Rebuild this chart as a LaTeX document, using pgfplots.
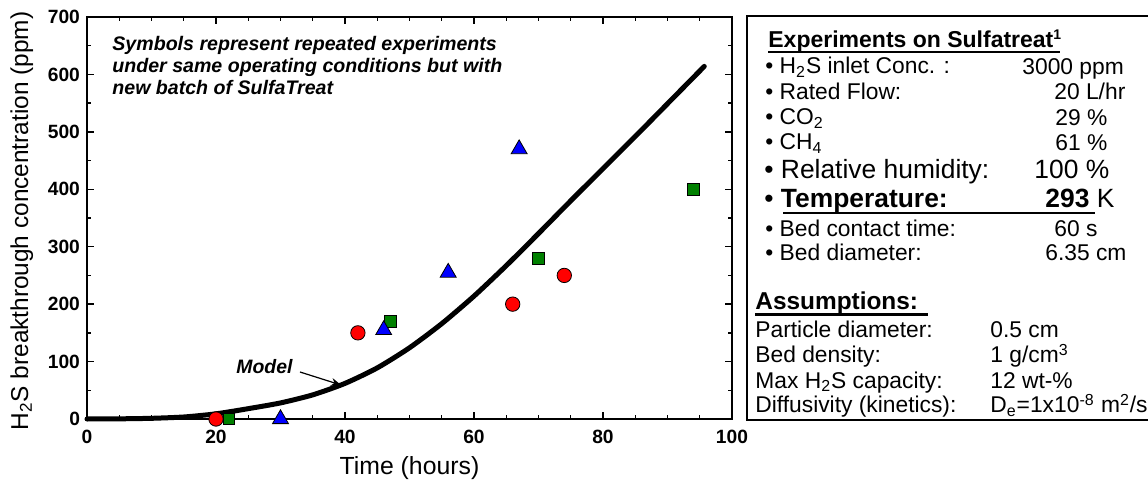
\documentclass[border=0pt]{standalone}
\usepackage{fontspec}
\setmainfont{Liberation Sans}
\usepackage{pgfplots}
\pgfplotsset{compat=1.18}
\usetikzlibrary{arrows.meta}
\definecolor{expred}{RGB}{255,0,0}
\definecolor{expgreen}{RGB}{0,128,0}
\definecolor{expblue}{RGB}{0,0,255}
\newcommand{\fsz}[1]{\fontsize{#1}{#1}\selectfont}

\begin{document}
\begin{tikzpicture}
\path[use as bounding box] (-43.5pt,-32pt) rectangle (530.5pt,209.5pt);
\begin{axis}[
  scale only axis, width=322.5pt, height=201pt,
  xmin=0, xmax=100, ymin=0, ymax=700,
  xtick={0,20,...,100}, ytick={0,100,...,700},
  minor x tick num=3, minor y tick num=1,
  tick align=inside, major tick length=3.5pt, minor tick length=1.8pt,
  axis line style={line width=1pt},
  every tick/.style={black, line width=0.7pt},
  /pgf/number format/assume math mode=true,
  ticklabel style={font=\fsz{9.6}\bfseries},
  xticklabel style={yshift=-2pt},
  xlabel={Time (hours)},
  xlabel style={font=\fsz{12.4}, at={(axis description cs:0.5,0)}, anchor=center, yshift=-24.5pt},
  ylabel={H\textsubscript{2}S breakthrough concentration (ppm)},
  ylabel style={font=\fsz{12.2}, at={(axis description cs:-0.101,0.4925)}, anchor=center},
  clip=false,
]
% model curve
\addplot[black, line width=2.5pt, smooth, tension=0.4, line cap=round] coordinates {
  (0,0) (5,0.3) (10,1.2) (15,3.5) (20,9) (25,18) (30,28) (35,42) (40,62)
  (45,89) (50,124) (55,166) (60,214) (65,267) (70,323) (75,380) (80,436)
  (85,492) (90,549) (95.7,614)};
% repeated experiments
\addplot[only marks, mark=*, mark size=3.6pt,
  mark options={fill=expred, draw=black, line width=0.4pt}]
  coordinates {(20,0) (42,150) (66,200) (74,250)};
\addplot[only marks, mark=square*, mark size=2.9pt,
  mark options={fill=expgreen, draw=black, line width=0.4pt}]
  coordinates {(22,0) (47,170) (70,280) (94,400)};
\addplot[only marks, mark=triangle*, mark size=4.6pt,
  mark options={fill=expblue, draw=black, line width=0.4pt}]
  coordinates {(30,0) (46,155) (56,255) (67,470)};
\end{axis}

% annotations and the info panel, in image pixels
\begin{scope}[shift={(-43.5pt,209.5pt)}, x=0.5pt, y=-0.5pt,
  every node/.style={inner sep=0pt, anchor=base west}]
\node[font=\fsz{9.8}\bfseries\itshape] at (112,51) {Symbols represent repeated experiments};
\node[font=\fsz{9.8}\bfseries\itshape] at (112,73) {under same operating conditions but with};
\node[font=\fsz{9.8}\bfseries\itshape] at (112,95) {new batch of SulfaTreat};
\node[font=\fsz{9.7}\bfseries\itshape] at (236,373) {Model};
\draw[line width=0.6pt, -{Stealth[length=5pt,width=4pt]}] (300,372) -- (341,385);

\draw[line width=0.75pt] (747,16) rectangle (1170,420);
\node[font=\fsz{11.5}\bfseries] at (768,48) {Experiments on Sulfatreat\textsuperscript{\fsz{7}1}};
\draw[line width=1pt] (768,52.5) -- (1060,52.5);
\begin{scope}[every node/.append style={font=\fsz{11.4}}]
\node at (765,74) {• H\textsubscript{2}S inlet Conc. :};
\node at (1022,75) {3000 ppm};
\node at (765,100) {• Rated Flow:};
\node at (1054,100) {20 L/hr};
\node at (765,125) {• CO\textsubscript{2}};
\node at (1055,126) {29 \%};
\node at (765,150) {• CH\textsubscript{4}};
\node at (1055,151) {61 \%};
\node at (765,237) {• Bed contact time:};
\node at (1054,237) {60 s};
\node at (765,261) {• Bed diameter:};
\node at (1045,261) {6.35 cm};
\node at (755,337) {Particle diameter:};
\node at (990,337) {0.5 cm};
\node at (755,363) {Bed density:};
\node at (990,363) {1 g/cm\textsuperscript{3}};
\node at (755,388) {Max H\textsubscript{2}S capacity:};
\node at (990,388) {12 wt-\%};
\node at (755,413) {Diffusivity (kinetics):};
\node at (990,413) {D\textsubscript{e}=1x10\textsuperscript{-8} m\textsuperscript{2}/s};
\end{scope}
\begin{scope}[every node/.append style={font=\fsz{13.2}}]
\node at (764,179) {• Relative humidity:};
\node at (1034,179) {100 \%};
\node at (764,208) {• \textbf{Temperature:}};
\node at (1045,208) {\textbf{293} K};
\end{scope}
\draw[line width=1.2pt] (783,213) -- (1095,213);
\node[font=\fsz{12.2}\bfseries] at (755,310) {Assumptions:};
\draw[line width=1.2pt] (755,314.5) -- (928,314.5);
\end{scope}
\end{tikzpicture}
\end{document}
